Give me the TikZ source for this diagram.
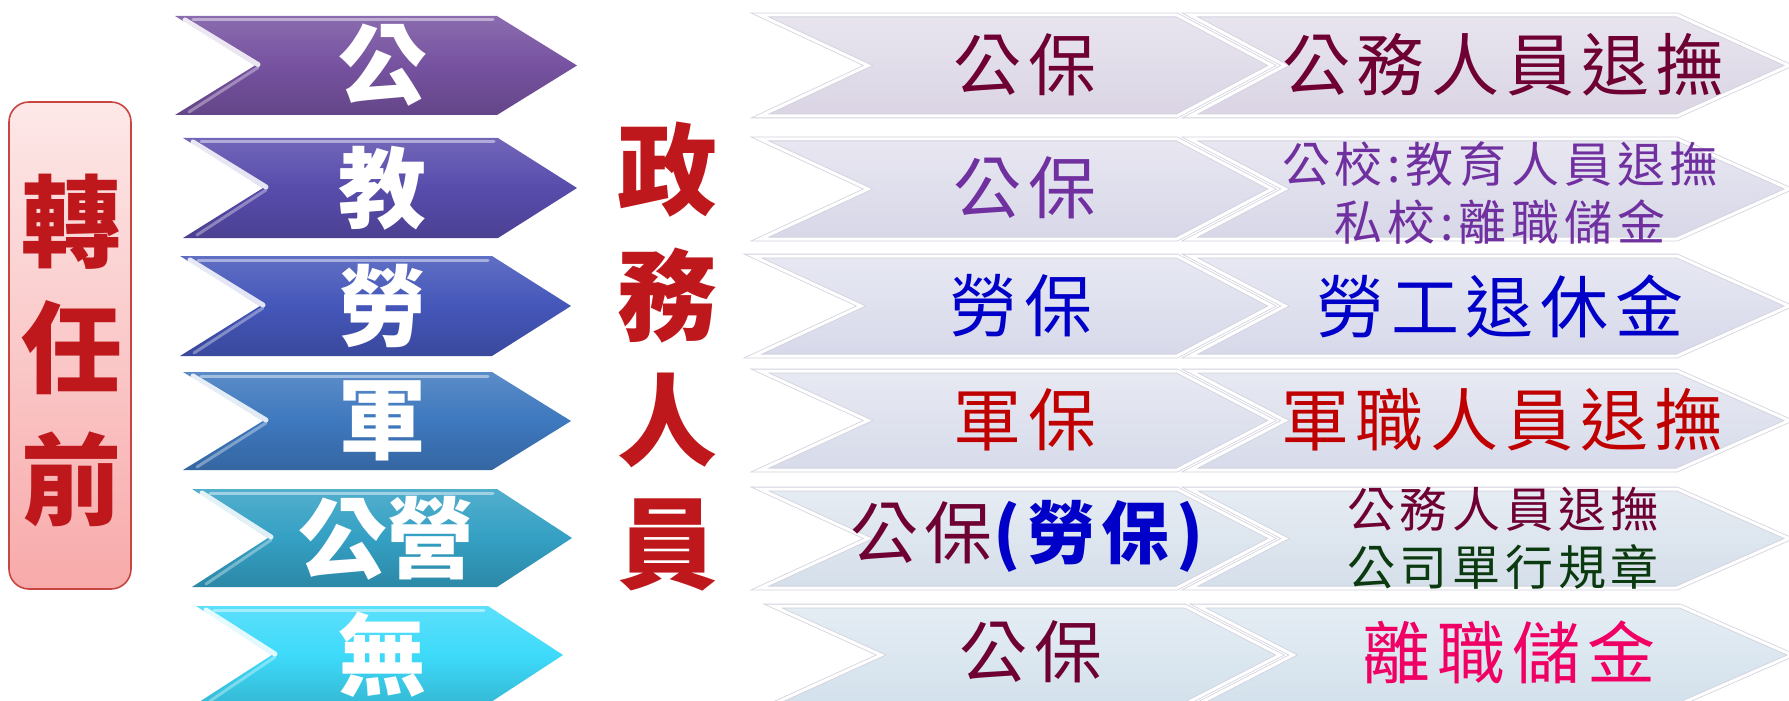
\documentclass[tikz,border=0pt]{standalone}
\usepackage{fontspec}
\newfontfamily\cjk{Noto Sans CJK TC}
\newfontfamily\cjkw{Noto Sans CJK TC}[LetterSpace=10]
\definecolor{cA}{RGB}{118,82,160}
\definecolor{cB}{RGB}{88,76,172}
\definecolor{cC}{RGB}{68,86,185}
\definecolor{cD}{RGB}{62,120,190}
\definecolor{cE}{RGB}{52,160,196}
\definecolor{cF}{RGB}{62,218,250}
\definecolor{gA}{RGB}{218,212,228}
\definecolor{gB}{RGB}{216,215,232}
\definecolor{gC}{RGB}{215,217,234}
\definecolor{gD}{RGB}{215,219,234}
\definecolor{gE}{RGB}{213,223,234}
\definecolor{gF}{RGB}{211,225,236}
\definecolor{rim}{RGB}{210,210,222}
\definecolor{maroonT}{RGB}{110,0,52}
\definecolor{purpT}{RGB}{112,48,160}
\definecolor{bluT}{RGB}{0,0,200}
\definecolor{redT}{RGB}{192,0,0}
\definecolor{grnT}{RGB}{12,58,16}
\definecolor{pinkT}{RGB}{240,0,100}
\definecolor{titleT}{RGB}{190,24,28}
\definecolor{boxTop}{RGB}{253,232,232}
\definecolor{boxBot}{RGB}{248,170,170}
\definecolor{boxRim}{RGB}{200,70,66}

% left chevron: color, left, top, bottom, notch depth, body right, tip
\newcommand\lchev[7]{%
  \path[top color=#1!85!white, bottom color=#1!85!black, middle color=#1]
    (#2,#3) -- (#6,#3) -- (#7,{(#3+#4)/2}) -- (#6,#4) -- (#2,#4)
    -- ({#2+#5},{(#3+#4)/2}) -- cycle;
  \draw[white, opacity=.45, line width=1.5pt, line cap=round]
    ({#2+18},{#3+4}) -- ({#6-4},{#3+4});
  \draw[white, opacity=.85, line width=2.5pt, line cap=round]
    ({#2+10},{#3+4}) -- ({#2+#5+3},{(#3+#4)/2-1});
  \draw[white, opacity=.35, line width=1.5pt, line cap=round]
    ({#2+#5+3},{(#3+#4)/2+2}) -- ({#2+14},{#4-3});
}
% right chevron: color, left, top, bottom, notch depth, body right, tip
\newcommand\rchev[7]{%
  \path[top color=#1!60!white, bottom color=#1, draw=rim, double=white,
        double distance=1.5pt, line width=.4pt]
    (#2,#3) -- (#6,#3) -- (#7,{(#3+#4)/2}) -- (#6,#4) -- (#2,#4)
    -- ({#2+#5},{(#3+#4)/2}) -- cycle;
}

\begin{document}
\begin{tikzpicture}[x=0.5pt,y=-0.5pt,
  lt/.style={inner sep=0pt, text=white, font=\cjk\bfseries\fontsize{44pt}{48pt}\selectfont},
  title/.style={inner sep=0pt, text=titleT, font=\cjk\bfseries\fontsize{50pt}{54pt}\selectfont},
  big/.style={inner sep=0pt, font=\cjkw\fontsize{34pt}{38pt}\selectfont},
  small/.style={inner sep=0pt, align=center, font=\cjkw\fontsize{24pt}{29pt}\selectfont}]
\useasboundingbox (0,0) rectangle (1789,701);
\clip (0,0) rectangle (1789,701);

% left box
\path[top color=boxTop, bottom color=boxBot, draw=boxRim, line width=0.8pt,
      rounded corners=10pt] (9,102) rectangle (131,589);
\node[title] (t1) at (71,222) {轉};
\node[title] (t2) at (71,348) {任};
\node[title] (t3) at (71,479) {前};

% left chevrons
\lchev{cA}{175}{16}{115}{80}{497}{577}
\lchev{cB}{183}{138}{238}{80}{498}{577}
\lchev{cC}{180}{256}{356}{80}{492}{571}
\lchev{cD}{183}{372}{470}{80}{492}{571}
\lchev{cE}{192}{489}{587}{76}{497}{572}
\lchev{cF}{196}{606}{704}{76}{488}{563}
\node[lt] (l1) at (382,65) {公};
\node[lt] (l2) at (382,188) {教};
\node[lt] (l3) at (382,306) {勞};
\node[lt] (l4) at (382,421) {軍};
\node[lt] (l5) at (386,538) {公營};
\node[lt] (l6) at (382,655) {無};

% middle column
\node[title] (m1) at (667,170) {政};
\node[title] (m2) at (667,295) {務};
\node[title] (m3) at (667,420) {人};
\node[title] (m4) at (667,545) {員};

% right chevrons
\rchev{gA}{760}{15}{116}{108}{1177}{1272}
\rchev{gA}{1190}{15}{116}{95}{1677}{1789}
\rchev{gB}{760}{139}{239}{108}{1177}{1272}
\rchev{gB}{1190}{139}{239}{95}{1677}{1789}
\rchev{gC}{753}{256}{356}{108}{1177}{1272}
\rchev{gC}{1190}{256}{356}{95}{1677}{1789}
\rchev{gD}{760}{371}{470}{108}{1177}{1272}
\rchev{gD}{1190}{371}{470}{95}{1677}{1789}
\rchev{gE}{760}{489}{588}{108}{1177}{1272}
\rchev{gE}{1190}{489}{588}{95}{1677}{1789}
\rchev{gF}{773}{606}{704}{108}{1185}{1280}
\rchev{gF}{1198}{606}{704}{95}{1680}{1792}

% right texts
\node[big, text=maroonT] (a1) at (1025,65) {公保};
\node[big, text=maroonT] (b1) at (1503,65) {公務人員退撫};
\node[big, text=purpT] (a2) at (1025,188) {公保};
\node[small, text=purpT] (b2) at (1500,193) {公校:教育人員退撫\\私校:離職儲金};
\node[big, text=bluT] (a3) at (1021,306) {勞保};
\node[big, text=bluT] (b3) at (1500,306) {勞工退休金};
\node[big, text=redT] (a4) at (1025,420) {軍保};
\node[big, text=redT] (b4) at (1502,420) {軍職人員退撫};
\node[big] (a5) at (1027,536) {\textcolor{maroonT}{公保}\textcolor{bluT}{\bfseries(勞保)}};
\node[small] (b5) at (1503,538) {\textcolor{maroonT}{公務人員退撫}\\\textcolor{grnT}{公司單行規章}};
\node[big, text=maroonT] (a6) at (1031,652) {公保};
\node[big, text=pinkT] (b6) at (1509,652) {離職儲金};
\end{tikzpicture}
\end{document}
